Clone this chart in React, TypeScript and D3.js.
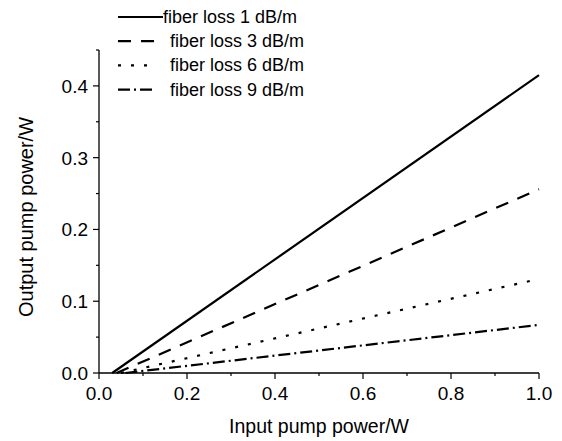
import React from "react";
import * as d3 from "d3";

const seriesNames = ["fiber loss 1 dB/m", "fiber loss 3 dB/m", "fiber loss 6 dB/m", "fiber loss 9 dB/m"];
const startX = [0.03, 0.04, 0.05, 0.06];
const endX = [1.0, 1.0, 1.0, 1.0];
const endY = [0.415, 0.256, 0.131, 0.067];
const dashes = ["none", "13,10", "3,10", "12,4,2,4"];
const xTicks = [0, 0.2, 0.4, 0.6, 0.8, 1.0];
const yTicks = [0, 0.1, 0.2, 0.3, 0.4];

export default function App() {
  const W = 562, H = 441;
  const x = d3.scaleLinear().domain([0, 1]).range([99, 539]);
  const y = d3.scaleLinear().domain([0, 0.45]).range([373, 50]);
  const line = d3.line<[number, number]>().x(d => x(d[0])).y(d => y(d[1]));
  const xMinor = d3.range(0, 1.0001, 0.1);
  const yMinor = d3.range(0, 0.4501, 0.05);
  const font = "Liberation Sans, Arial, sans-serif";
  return (
    <svg width={W} height={H} style={{ position: "absolute", left: 0, top: 0, background: "#fff" }}>
      <rect width={W} height={H} fill="#fff" />
      {/* axes */}
      <line x1={x(0)} x2={x(1)} y1={y(0)} y2={y(0)} stroke="#000" strokeWidth={1.3} />
      <line x1={x(0)} x2={x(0)} y1={y(0)} y2={y(0.45)} stroke="#000" strokeWidth={1.3} />
      {xMinor.map((v, i) => (
        <line key={"xm" + i} x1={x(v)} x2={x(v)} y1={y(0)} y2={y(0) + (i % 2 === 0 ? 6 : 3)} stroke="#000" strokeWidth={1.2} />
      ))}
      {yMinor.map((v, i) => (
        <line key={"ym" + i} x1={x(0)} x2={x(0) - (i % 2 === 0 ? 6 : 3)} y1={y(v)} y2={y(v)} stroke="#000" strokeWidth={1.2} />
      ))}
      {xTicks.map(v => (
        <text key={"xt" + v} x={x(v)} y={y(0) + 27} textAnchor="middle" fontFamily={font} fontSize={19}>{v.toFixed(1)}</text>
      ))}
      {yTicks.map(v => (
        <text key={"yt" + v} x={x(0) - 11} y={y(v) + 7} textAnchor="end" fontFamily={font} fontSize={19}>{v.toFixed(1)}</text>
      ))}
      <text x={319} y={433} textAnchor="middle" fontFamily={font} fontSize={19.5}>Input pump power/W</text>
      <text transform={`translate(33,217) rotate(-90)`} textAnchor="middle" fontFamily={font} fontSize={20}>Output pump power/W</text>
      {/* series */}
      {seriesNames.map((n, i) => (
        <path key={n} d={line([[startX[i], 0], [endX[i], endY[i]]]) || ""} fill="none" stroke="#000" strokeWidth={2.2} strokeDasharray={dashes[i]} />
      ))}
      {/* legend */}
      {seriesNames.map((n, i) => {
        const ly = 17 + i * 24.2;
        return (
          <g key={"lg" + n}>
            <line x1={118} x2={i === 0 ? 163 : 155} y1={ly} y2={ly} stroke="#000" strokeWidth={2.2} strokeDasharray={dashes[i]} />
            <text x={i === 0 ? 163 : 170} y={ly + 6} fontFamily={font} fontSize={18}>{n}</text>
          </g>
        );
      })}
    </svg>
  );
}
